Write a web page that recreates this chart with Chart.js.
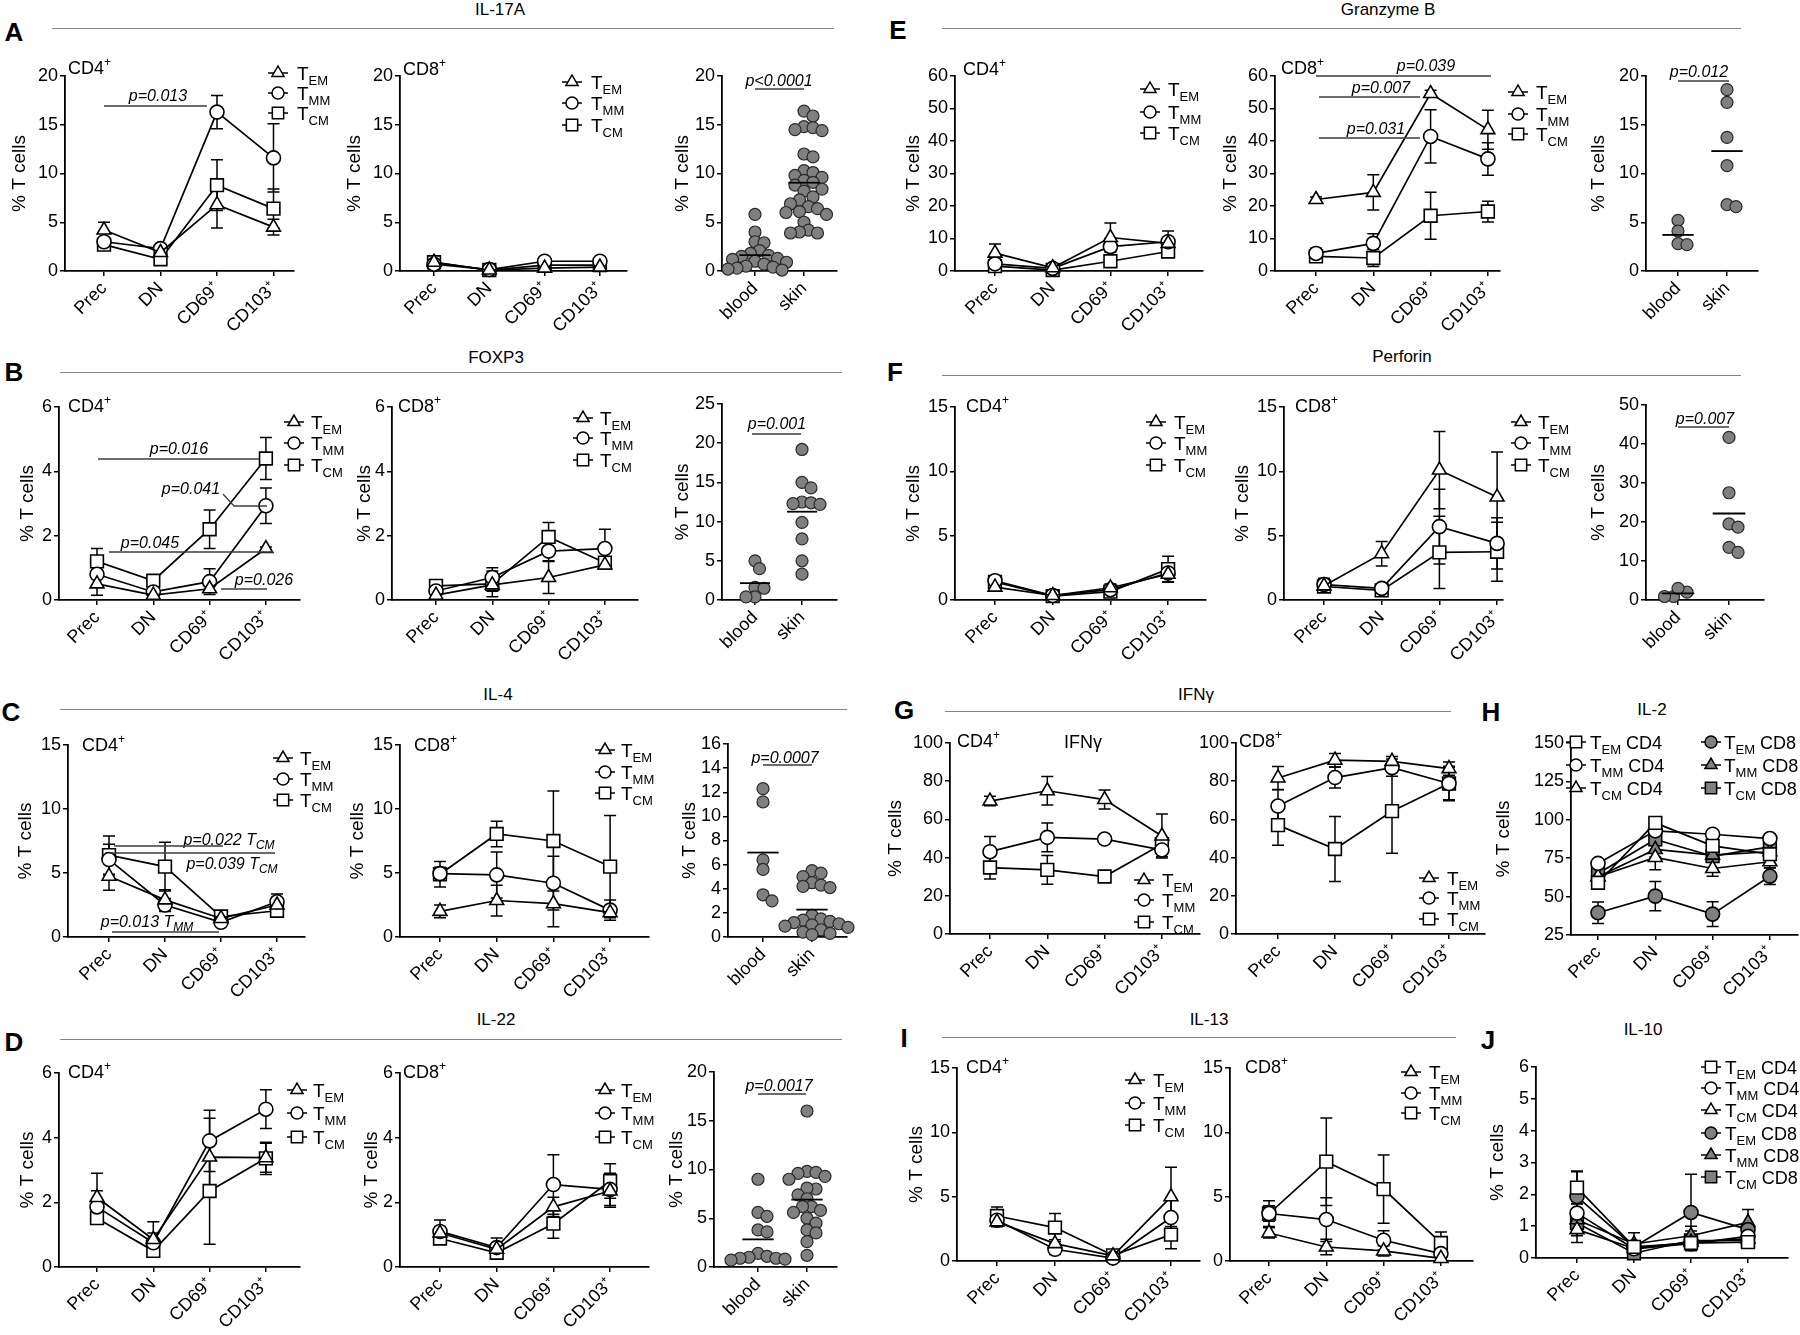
<!DOCTYPE html>
<html>
<head>
<meta charset="utf-8">
<script src="https://cdn.jsdelivr.net/npm/chart.js@4.4.0/dist/chart.umd.min.js"></script>
<style>
  body { margin: 0; width: 1800px; height: 1335px; position: relative; overflow: hidden; background: #fff;
         font-family: 'Liberation Sans', Arial, sans-serif; color: #000; }
  .letter { position: absolute; font-weight: bold; font-size: 26px; transform: translate(-50%, -50%); }
  .title { position: absolute; font-size: 17px; transform: translate(-50%, -50%); white-space: nowrap; }
  .rule { position: absolute; height: 0; border-top: 1.6px solid #858585; }
  canvas { position: absolute; }
</style>
</head>
<body>
<div class="letter" style="left:14px;top:32px">A</div>
<div class="letter" style="left:898px;top:30px">E</div>
<div class="letter" style="left:14px;top:372px">B</div>
<div class="letter" style="left:895px;top:372px">F</div>
<div class="letter" style="left:11px;top:712px">C</div>
<div class="letter" style="left:904px;top:710px">G</div>
<div class="letter" style="left:1491px;top:712px">H</div>
<div class="letter" style="left:14px;top:1042px">D</div>
<div class="letter" style="left:904px;top:1038px">I</div>
<div class="letter" style="left:1488px;top:1040px">J</div>

<div class="title" style="left:500px;top:10px">IL-17A</div>
<div class="title" style="left:1388px;top:10px">Granzyme B</div>
<div class="title" style="left:496px;top:358px">FOXP3</div>
<div class="title" style="left:1402px;top:357px">Perforin</div>
<div class="title" style="left:498px;top:695px">IL-4</div>
<div class="title" style="left:1196px;top:695px">IFNγ</div>
<div class="title" style="left:1652px;top:710px">IL-2</div>
<div class="title" style="left:496px;top:1020px">IL-22</div>
<div class="title" style="left:1209px;top:1020px">IL-13</div>
<div class="title" style="left:1643px;top:1030px">IL-10</div>

<div class="rule" style="left:52px;width:782px;top:28px"></div>
<div class="rule" style="left:942px;width:799px;top:28px"></div>
<div class="rule" style="left:60px;width:782px;top:372px"></div>
<div class="rule" style="left:942px;width:799px;top:375px"></div>
<div class="rule" style="left:60px;width:787px;top:709px"></div>
<div class="rule" style="left:945px;width:506px;top:711px"></div>
<div class="rule" style="left:60px;width:782px;top:1039px"></div>
<div class="rule" style="left:942px;width:514px;top:1037px"></div>

<script>
// categories
const stages = ['Prec', 'DN', 'CD69⁺', 'CD103⁺'];
const sites = ['blood', 'skin'];

// A - IL-17A (mean, SEM)
const il17_cd4_em = [4.2, 1.9, 6.8, 4.5],    il17_cd4_em_sem = [0.8, 0.3, 2.4, 0.8];
const il17_cd4_mm = [3.0, 2.3, 16.3, 11.6],  il17_cd4_mm_sem = [0.4, 0.4, 1.7, 3.5];
const il17_cd4_cm = [2.7, 1.2, 8.8, 6.4],    il17_cd4_cm_sem = [0.4, 0.3, 2.6, 2.0];
const il17_cd8_em = [0.9, 0.1, 0.3, 0.4],    il17_cd8_em_sem = [0.3, 0.1, 0.2, 0.2];
const il17_cd8_mm = [0.7, 0.15, 1.0, 1.0],   il17_cd8_mm_sem = [0.3, 0.1, 0.4, 0.2];
const il17_cd8_cm = [0.9, 0.1, 0.6, 0.6],    il17_cd8_cm_sem = [0.3, 0.1, 0.3, 0.2];
const il17_blood = [5.8, 4.0, 3.0, 2.9, 2.1, 1.8, 1.6, 1.5, 1.3, 1.2, 1.0, 0.9, 0.7, 0.5, 0.4, 0.3, 0.2, 0.1];
const il17_skin = [16.4, 15.9, 14.8, 14.7, 14.5, 14.4, 12.0, 11.7, 10.3, 10.1, 9.8, 9.6, 9.3, 9.1, 8.8,
                   8.4, 8.2, 7.6, 7.3, 6.9, 6.6, 6.4, 6.1, 6.0, 5.8, 5.0, 4.2, 4.0, 3.9, 3.9];

// E - Granzyme B
const gzb_cd4_em = [5.5, 1.0, 10.3, 8.5],    gzb_cd4_em_sem = [2.8, 0.5, 4.5, 1.5];
const gzb_cd4_mm = [2.2, 0.8, 7.5, 9.0],     gzb_cd4_mm_sem = [1.0, 0.5, 2.5, 3.3];
const gzb_cd4_cm = [1.5, 0.3, 3.0, 6.0],     gzb_cd4_cm_sem = [0.8, 0.3, 1.5, 1.0];
const gzb_cd8_em = [22.0, 24.2, 54.6, 43.5], gzb_cd8_em_sem = [0.8, 5.4, 1.0, 6.0];
const gzb_cd8_mm = [5.4, 8.5, 41.4, 34.5],   gzb_cd8_mm_sem = [1.6, 3.0, 8.2, 5.0];
const gzb_cd8_cm = [4.5, 4.0, 17.0, 18.3],   gzb_cd8_cm_sem = [1.5, 2.6, 7.2, 3.2];
const gzb_blood = [5.2, 4.1, 2.8, 2.7];
const gzb_skin = [18.6, 17.3, 13.7, 10.8, 6.8, 6.6];

// B - FOXP3
const foxp3_cd4_em = [0.5, 0.15, 0.35, 1.6],   foxp3_cd4_em_sem = [0.35, 0.1, 0.1, 0.05];
const foxp3_cd4_mm = [0.8, 0.25, 0.57, 2.93],  foxp3_cd4_mm_sem = [0.35, 0.1, 0.4, 0.55];
const foxp3_cd4_cm = [1.2, 0.6, 2.2, 4.4],     foxp3_cd4_cm_sem = [0.4, 0.1, 0.6, 0.65];
const foxp3_cd8_em = [0.15, 0.47, 0.7, 1.09],  foxp3_cd8_em_sem = [0.1, 0.2, 0.5, 0.1];
const foxp3_cd8_mm = [0.28, 0.7, 1.52, 1.6],   foxp3_cd8_mm_sem = [0.2, 0.3, 0.3, 0.6];
const foxp3_cd8_cm = [0.44, 0.5, 1.96, 1.16],  foxp3_cd8_cm_sem = [0.15, 0.4, 0.45, 0.15];
const foxp3_blood = [5.0, 4.0, 1.6, 1.5, 0.4, 0.4];
const foxp3_skin = [19.2, 15.0, 14.3, 12.5, 12.4, 12.3, 12.2, 9.9, 7.8, 5.0, 3.3];

// F - Perforin
const prf_cd4_em = [1.0, 0.35, 0.95, 2.0],   prf_cd4_em_sem = [0.3, 0.1, 0.3, 0.6];
const prf_cd4_mm = [1.5, 0.35, 0.8, 2.1],    prf_cd4_mm_sem = [0.3, 0.1, 0.2, 0.7];
const prf_cd4_cm = [1.4, 0.3, 0.65, 2.4],    prf_cd4_cm_sem = [0.3, 0.1, 0.2, 1.0];
const prf_cd8_em = [1.1, 3.6, 10.1, 8.0],    prf_cd8_em_sem = [0.5, 0.95, 3.0, 3.5];
const prf_cd8_mm = [1.2, 0.9, 5.7, 4.4],     prf_cd8_mm_sem = [0.5, 0.3, 2.9, 2.0];
const prf_cd8_cm = [1.05, 0.75, 3.7, 3.75],  prf_cd8_cm_sem = [0.4, 0.2, 2.8, 2.3];
const prf_blood = [0.9, 2.0, 3.0, 0.9];
const prf_skin = [41.7, 27.5, 19.5, 18.7, 13.5, 12.2];

// C - IL-4
const il4_cd4_em = [4.75, 2.9, 1.45, 2.5],   il4_cd4_em_sem = [1.1, 0.8, 0.3, 0.3];
const il4_cd4_mm = [6.05, 2.5, 1.15, 2.75],  il4_cd4_mm_sem = [1.2, 0.5, 0.3, 0.6];
const il4_cd4_cm = [6.4, 5.5, 1.6, 2.05],    il4_cd4_cm_sem = [1.5, 1.9, 0.3, 0.5];
const il4_cd8_em = [2.0, 2.85, 2.6, 1.9],    il4_cd8_em_sem = [0.5, 1.2, 1.8, 0.3];
const il4_cd8_mm = [4.95, 4.85, 4.2, 2.1],   il4_cd8_mm_sem = [0.5, 1.8, 2.1, 0.8];
const il4_cd8_cm = [4.9, 8.05, 7.5, 5.5],    il4_cd8_cm_sem = [1.0, 1.0, 3.9, 4.0];
const il4_blood = [12.3, 11.2, 6.4, 5.6, 3.5, 3.0];
const il4_skin = [5.5, 5.3, 5.0, 4.5, 4.3, 4.2, 4.1, 1.8, 1.5, 1.4, 1.3, 1.2, 1.1, 1.0, 0.9, 0.8, 0.6, 0.4, 0.3, 0.2];

// G - IFNγ
const ifng_cd4_em = [69.6, 75.0, 70.4, 51.3],  ifng_cd4_em_sem = [2.5, 7.5, 5.0, 11.5];
const ifng_cd4_mm = [43.1, 50.6, 49.7, 44.0],  ifng_cd4_mm_sem = [8.0, 7.5, 1.5, 3.5];
const ifng_cd4_cm = [34.8, 33.6, 30.1, 47.0],  ifng_cd4_cm_sem = [6.0, 7.5, 2.0, 3.0];
const ifng_cd8_em = [81.7, 91.0, 90.4, 86.6],  ifng_cd8_em_sem = [6.0, 3.5, 2.5, 3.5];
const ifng_cd8_mm = [67.0, 81.9, 87.1, 78.8],  ifng_cd8_mm_sem = [8.5, 5.5, 4.5, 8.5];
const ifng_cd8_cm = [57.0, 44.5, 64.3, 78.8],  ifng_cd8_cm_sem = [10.5, 17.0, 22.0, 9.0];

// H - IL-2
const il2_cd4_em = [59.0, 98.0, 83.0, 77.6],  il2_cd4_em_sem = [3, 4, 4, 4];
const il2_cd4_mm = [71.6, 92.8, 90.6, 87.8],  il2_cd4_mm_sem = [2, 3, 2, 3];
const il2_cd4_cm = [62.9, 75.5, 68.3, 72.7],  il2_cd4_cm_sem = [4, 8, 5, 4];
const il2_cd8_em = [39.5, 50.3, 38.6, 63.3],  il2_cd8_em_sem = [7, 9.5, 8, 5.5];
const il2_cd8_mm = [62.9, 80.7, 77.0, 79.2],  il2_cd8_mm_sem = [4, 5, 4, 4];
const il2_cd8_cm = [65.1, 87.2, 76.3, 82.4],  il2_cd8_cm_sem = [4, 4, 4, 4];

// D - IL-22
const il22_cd4_em = [2.15, 0.85, 3.4, 3.38],  il22_cd4_em_sem = [0.75, 0.55, 1.2, 0.45];
const il22_cd4_mm = [1.86, 0.75, 3.9, 4.88],  il22_cd4_mm_sem = [0.5, 0.3, 0.95, 0.6];
const il22_cd4_cm = [1.51, 0.5, 2.35, 3.36],  il22_cd4_cm_sem = [0.12, 0.1, 1.65, 0.5];
const il22_cd8_em = [1.05, 0.55, 1.86, 2.35], il22_cd8_em_sem = [0.2, 0.1, 0.3, 0.5];
const il22_cd8_mm = [1.1, 0.6, 2.55, 2.4],    il22_cd8_mm_sem = [0.35, 0.3, 0.92, 0.5];
const il22_cd8_cm = [0.88, 0.44, 1.34, 2.66], il22_cd8_cm_sem = [0.1, 0.15, 0.45, 0.53];
const il22_blood = [9.0, 5.6, 5.2, 3.8, 3.6, 1.4, 1.1, 1.0, 0.9, 0.9, 0.8, 0.7];
const il22_skin = [16.0, 9.8, 9.7, 9.6, 9.3, 9.0, 8.0, 8.1, 7.4, 7.0, 6.2, 5.8, 6.2, 5.6, 5.0, 4.5, 3.8, 3.5, 2.6, 1.2];

// I - IL-13
const il13_cd4_em = [3.04, 1.35, 0.4, 4.99],  il13_cd4_em_sem = [0.3, 0.3, 0.2, 2.3];
const il13_cd4_mm = [3.17, 0.91, 0.23, 3.38], il13_cd4_mm_sem = [0.5, 0.4, 0.1, 1.5];
const il13_cd4_cm = [3.5, 2.6, 0.44, 2.05],   il13_cd4_cm_sem = [0.7, 1.1, 0.2, 1.1];
const il13_cd8_em = [2.18, 1.09, 0.78, 0.2],  il13_cd8_em_sem = [0.4, 0.6, 0.4, 0.2];
const il13_cd8_mm = [3.69, 3.22, 1.61, 0.57], il13_cd8_mm_sem = [1.0, 1.7, 0.75, 0.5];
const il13_cd8_cm = [3.69, 7.72, 5.59, 1.4],  il13_cd8_cm_sem = [0.6, 3.4, 2.65, 0.85];

// J - IL-10
const il10_cd4_em = [2.21, 0.35, 0.47, 0.5],  il10_cd4_em_sem = [0.5, 0.1, 0.15, 0.1];
const il10_cd4_mm = [1.41, 0.29, 0.45, 0.68], il10_cd4_mm_sem = [0.4, 0.1, 0.2, 0.2];
const il10_cd4_cm = [0.89, 0.3, 0.5, 0.6],    il10_cd4_cm_sem = [0.4, 0.1, 0.2, 0.2];
const il10_cd8_em = [1.93, 0.35, 1.43, 0.89], il10_cd8_em_sem = [0.8, 0.1, 1.2, 0.2];
const il10_cd8_mm = [1.2, 0.44, 0.7, 1.12],   il10_cd8_mm_sem = [0.5, 0.35, 0.3, 0.4];
const il10_cd8_cm = [1.1, 0.15, 0.55, 0.55],  il10_cd8_cm_sem = [0.3, 0.1, 0.3, 0.2];

const FONT = "'Liberation Sans', Arial, sans-serif";
const WHITE = '#ffffff', GREY = '#808080';
const RAD = { triangle: 8, circle: 7, rect: 9 };
const LEG_RAD = { triangle: 7, circle: 6, rect: 8 };

function drawMarker(ctx, shape, x, y, r, fill) {
  ctx.beginPath();
  if (shape === 'circle') {
    ctx.arc(x, y, r, 0, Math.PI * 2);
  } else if (shape === 'rect') {
    const h = r * Math.SQRT1_2;
    ctx.rect(x - h, y - h, 2 * h, 2 * h);
  } else {
    ctx.moveTo(x, y - r);
    ctx.lineTo(x + r * 0.866, y + r * 0.5);
    ctx.lineTo(x - r * 0.866, y + r * 0.5);
    ctx.closePath();
  }
  ctx.fillStyle = fill;
  ctx.fill();
  ctx.stroke();
}

function fontOf(s) {
  return (s.italic ? 'italic ' : '') + s.size + 'px ' + FONT;
}

// draw a run of text pieces (for sub/superscripts), baseline at y
function richText(ctx, segs, x, y, align) {
  let w = 0;
  segs.forEach(s => { ctx.font = fontOf(s); w += ctx.measureText(s.t).width; });
  let cx = align === 'center' ? x - w / 2 : x;
  segs.forEach(s => {
    ctx.font = fontOf(s);
    ctx.fillText(s.t, cx, y + (s.dy || 0));
    cx += ctx.measureText(s.t).width;
  });
}

const decorPlugin = {
  id: 'decor',
  beforeDatasetsDraw(chart) {
    const ctx = chart.ctx, ys = chart.scales.y;
    chart.data.datasets.forEach((ds, di) => {
      if (!ds.sem) return;
      const meta = chart.getDatasetMeta(di);
      ctx.save();
      ctx.strokeStyle = '#000';
      ctx.lineWidth = 1.5;
      meta.data.forEach((pt, i) => {
        const v = ds.data[i].y, e = ds.sem[i];
        const hi = ys.getPixelForValue(v + e);
        const lo = ys.getPixelForValue(Math.max(ys.min, v - e));
        ctx.beginPath();
        ctx.moveTo(pt.x, hi); ctx.lineTo(pt.x, lo);
        ctx.moveTo(pt.x - 6, hi); ctx.lineTo(pt.x + 6, hi);
        ctx.moveTo(pt.x - 6, lo); ctx.lineTo(pt.x + 6, lo);
        ctx.stroke();
      });
      ctx.restore();
    });
  },
  afterDatasetsDraw(chart) {
    const d = chart.canvas._decor;
    if (!d) return;
    const ctx = chart.ctx, xs = chart.scales.x, ys = chart.scales.y;
    ctx.save();
    // group means
    chart.data.datasets.forEach(ds => {
      if (!ds.values) return;
      const mean = ds.values.reduce((a, b) => a + b, 0) / ds.values.length;
      const py = ys.getPixelForValue(mean);
      ctx.strokeStyle = '#000';
      ctx.lineWidth = 1.8;
      ctx.beginPath();
      ctx.moveTo(xs.getPixelForValue(ds.cat - 0.32), py);
      ctx.lineTo(xs.getPixelForValue(ds.cat + 0.32), py);
      ctx.stroke();
    });
    ctx.translate(-d.ox, -d.oy);
    ctx.fillStyle = '#000';
    ctx.textBaseline = 'alphabetic';
    if (d.corner) {
      richText(ctx, [{ t: d.corner.text, size: 18 }, { t: '+', size: 12, dy: -8 }], d.corner.x, d.corner.y + 6, 'left');
    }
    if (d.inner) {
      richText(ctx, [{ t: d.inner.text, size: 18 }], d.inner.x, d.inner.y + 6, 'center');
    }
    (d.legends || []).forEach(lg => {
      lg.items.forEach((it, i) => {
        const y = lg.rows[i];
        ctx.strokeStyle = '#000';
        ctx.lineWidth = 1.5;
        ctx.beginPath();
        ctx.moveTo(lg.mx - 10, y); ctx.lineTo(lg.mx + 10, y);
        ctx.stroke();
        drawMarker(ctx, it.shape, lg.mx, y, LEG_RAD[it.shape], it.fill);
        ctx.fillStyle = '#000';
        const segs = [{ t: 'T', size: 19 }, { t: it.sub, size: 13, dy: 5 }];
        if (it.suffix) segs.push({ t: ' ' + it.suffix, size: 18 });
        richText(ctx, segs, lg.tx, y + 7, 'left');
      });
    });
    (d.notes || []).forEach(n => {
      ctx.fillStyle = '#000';
      const segs = [{ t: n.text, size: 16, italic: true }];
      if (n.sub) segs.push({ t: ' T', size: 16, italic: true }, { t: n.sub, size: 12, italic: true, dy: 4 });
      richText(ctx, segs, n.x, n.y + 6, 'center');
      ctx.strokeStyle = '#3c3c3c';
      ctx.lineWidth = 1.3;
      ctx.beginPath();
      n.path.forEach((p, i) => (i ? ctx.lineTo(p[0], p[1]) : ctx.moveTo(p[0], p[1])));
      ctx.stroke();
    });
    ctx.restore();
  }
};
Chart.register(decorPlugin);

function series(values, sem, shape, fill) {
  return {
    data: values.map((v, i) => ({ x: i, y: v })),
    sem: sem,
    borderColor: '#000',
    borderWidth: 1.7,
    pointStyle: shape,
    pointRadius: RAD[shape],
    pointBackgroundColor: fill,
    pointBorderColor: '#000',
    pointBorderWidth: 1.6,
    fill: false,
    tension: 0,
    clip: false
  };
}

function trio(em, emSem, mm, mmSem, cm, cmSem) {
  return [series(em, emSem, 'triangle', WHITE), series(mm, mmSem, 'circle', WHITE), series(cm, cmSem, 'rect', WHITE)];
}

// beeswarm offsets (pixels); dots may overlap a little, as in the original
function swarm(values, pxPerUnit, diam) {
  const placed = [], offs = new Array(values.length);
  const order = values.map((v, i) => i).sort((a, b) => values[b] - values[a]);
  order.forEach(i => {
    const py = values[i] * pxPerUnit;
    let off = 0;
    for (let k = 0; k < 60; k++) {
      off = (k % 2 ? 1 : -1) * Math.ceil(k / 2) * diam * 0.5;
      if (placed.every(p => Math.hypot(p.x - off, p.y - py) >= diam)) break;
    }
    placed.push({ x: off, y: py });
    offs[i] = off;
  });
  return offs;
}

function dots(values, cat, spec) {
  const pxPerUnit = (spec.bot - spec.top) / (spec.yMax - (spec.yMin || 0));
  const offs = swarm(values, pxPerUnit, 9);
  return {
    type: 'scatter',
    data: values.map((v, i) => ({ x: cat + offs[i] / spec.s, y: v })),
    values: values,
    cat: cat,
    showLine: false,
    pointStyle: 'circle',
    pointRadius: 6,
    pointBackgroundColor: GREY,
    pointBorderColor: '#2a2a2a',
    pointBorderWidth: 1.2,
    clip: false
  };
}

const STD_ITEMS = [
  { shape: 'triangle', fill: WHITE, sub: 'EM' },
  { shape: 'circle', fill: WHITE, sub: 'MM' },
  { shape: 'rect', fill: WHITE, sub: 'CM' }
];

function build(spec, labels, datasets, decor) {
  const left = spec.titleX != null ? Math.round(spec.titleX - 11.4) : spec.x0 - 40;
  const top = spec.top - 48;
  const right = Math.min(1800, spec.x1 + (spec.padR != null ? spec.padR : 85));
  const bottom = spec.bot + 80;
  const w = right - left, h = bottom - top;
  const cv = document.createElement('canvas');
  cv.width = w;
  cv.height = h;
  cv.style.left = left + 'px';
  cv.style.top = top + 'px';
  cv.style.width = w + 'px';
  cv.style.height = h + 'px';
  document.body.appendChild(cv);
  cv._decor = Object.assign({ ox: left, oy: top }, decor);

  const n = labels.length, yMin = spec.yMin || 0;
  const axisLine = { display: true, color: '#000', width: 1.8 };
  const tickMarks = { drawOnChartArea: false, drawTicks: true, tickLength: 5, color: '#000', lineWidth: 1.5 };
  new Chart(cv, {
    type: spec.scatter ? 'scatter' : 'line',
    data: { datasets: datasets },
    options: {
      responsive: false,
      animation: false,
      devicePixelRatio: 1,
      events: [],
      layout: { autoPadding: false, padding: { top: spec.top - top, right: right - spec.x1, left: 0, bottom: 0 } },
      plugins: { legend: { display: false }, tooltip: { enabled: false } },
      scales: {
        x: {
          type: 'linear',
          min: (spec.x0 - spec.p0) / spec.s,
          max: (n - 1) + (spec.x1 - spec.p0 - (n - 1) * spec.s) / spec.s,
          afterBuildTicks: ax => { ax.ticks = labels.map((_, i) => ({ value: i })); },
          afterFit: ax => { ax.height = bottom - spec.bot; ax.paddingLeft = 0; ax.paddingRight = 0; },
          ticks: {
            autoSkip: false, minRotation: 45, maxRotation: 45, padding: 2, color: '#000',
            font: { family: FONT, size: 18 },
            callback: v => labels[v]
          },
          grid: tickMarks,
          border: axisLine
        },
        y: {
          min: yMin,
          max: spec.yMax,
          afterBuildTicks: ax => {
            const t = [];
            for (let v = yMin; v <= spec.yMax + 1e-9; v += spec.step) t.push({ value: v });
            ax.ticks = t;
          },
          afterFit: ax => { ax.width = spec.x0 - left; ax.paddingTop = 0; ax.paddingBottom = 0; },
          ticks: { autoSkip: false, padding: 2, color: '#000', font: { family: FONT, size: 18 } },
          grid: tickMarks,
          border: axisLine,
          title: { display: spec.titleX != null, text: '% T cells', color: '#000', font: { family: FONT, size: 19 }, padding: 0 }
        }
      }
    }
  });
}

function note(text, x, y, path, sub) {
  return { text: text, x: x, y: y, path: path, sub: sub };
}

// ---------- A: IL-17A ----------
const specA4 = { x0: 65, x1: 294, p0: 104, s: 56.5, top: 76, bot: 271, yMax: 20, step: 5, titleX: 19 };
build(specA4, stages,
  trio(il17_cd4_em, il17_cd4_em_sem, il17_cd4_mm, il17_cd4_mm_sem, il17_cd4_cm, il17_cd4_cm_sem),
  { corner: { text: 'CD4', x: 68, y: 68 },
    legends: [{ mx: 278, tx: 297, rows: [73, 93, 113], items: STD_ITEMS }],
    notes: [note('p=0.013', 158, 95, [[104, 106], [207, 106]])] });

const specA8 = { x0: 400, x1: 627, p0: 434, s: 55.3, top: 76, bot: 271, yMax: 20, step: 5, titleX: 354 };
build(specA8, stages,
  trio(il17_cd8_em, il17_cd8_em_sem, il17_cd8_mm, il17_cd8_mm_sem, il17_cd8_cm, il17_cd8_cm_sem),
  { corner: { text: 'CD8', x: 403, y: 69 },
    legends: [{ mx: 572, tx: 591, rows: [82, 103, 125], items: STD_ITEMS }] });

const specAs = { x0: 722, x1: 837, p0: 755, s: 49, top: 76, bot: 271, yMax: 20, step: 5, titleX: 682, scatter: true };
build(specAs, sites, [dots(il17_blood, 0, specAs), dots(il17_skin, 1, specAs)],
  { notes: [note('p<0.0001', 779, 80, [[755, 89], [804, 89]])] });

// ---------- E: Granzyme B ----------
const specE4 = { x0: 955, x1: 1203, p0: 995, s: 57.7, top: 76, bot: 271, yMax: 60, step: 10, titleX: 913 };
build(specE4, stages,
  trio(gzb_cd4_em, gzb_cd4_em_sem, gzb_cd4_mm, gzb_cd4_mm_sem, gzb_cd4_cm, gzb_cd4_cm_sem),
  { corner: { text: 'CD4', x: 963, y: 69 },
    legends: [{ mx: 1150, tx: 1168, rows: [89, 112, 133], items: STD_ITEMS }] });

const specE8 = { x0: 1275, x1: 1500, p0: 1316, s: 57.3, top: 76, bot: 271, yMax: 60, step: 10, titleX: 1230 };
build(specE8, stages,
  trio(gzb_cd8_em, gzb_cd8_em_sem, gzb_cd8_mm, gzb_cd8_mm_sem, gzb_cd8_cm, gzb_cd8_cm_sem),
  { corner: { text: 'CD8', x: 1281, y: 68 },
    legends: [{ mx: 1518, tx: 1536, rows: [92, 114, 134], items: STD_ITEMS }],
    notes: [note('p=0.039', 1426, 65, [[1316, 76], [1491, 76]]),
            note('p=0.007', 1381, 87, [[1319, 97], [1420, 97]]),
            note('p=0.031', 1376, 128, [[1319, 138], [1420, 138]])] });

const specEs = { x0: 1646, x1: 1758, p0: 1678, s: 49, top: 76, bot: 271, yMax: 20, step: 5, titleX: 1598, scatter: true, padR: 40 };
build(specEs, sites, [dots(gzb_blood, 0, specEs), dots(gzb_skin, 1, specEs)],
  { notes: [note('p=0.012', 1699, 71, [[1678, 81], [1729, 81]])] });

// ---------- B: FOXP3 ----------
const specB4 = { x0: 59, x1: 300, p0: 97, s: 56.3, top: 407, bot: 600, yMax: 6, step: 2, titleX: 27 };
build(specB4, stages,
  trio(foxp3_cd4_em, foxp3_cd4_em_sem, foxp3_cd4_mm, foxp3_cd4_mm_sem, foxp3_cd4_cm, foxp3_cd4_cm_sem),
  { corner: { text: 'CD4', x: 68, y: 406 },
    legends: [{ mx: 294, tx: 311, rows: [422, 443, 465], items: STD_ITEMS }],
    notes: [note('p=0.016', 179, 448, [[98, 459], [259, 459]]),
            note('p=0.041', 191, 488, [[223, 494], [234, 506], [267, 506]]),
            note('p=0.045', 150, 542, [[109, 552], [273, 552]]),
            note('p=0.026', 264, 579, [[221, 589], [267, 589]])] });

const specB8 = { x0: 392, x1: 638, p0: 436, s: 56.3, top: 407, bot: 600, yMax: 6, step: 2, titleX: 364 };
build(specB8, stages,
  trio(foxp3_cd8_em, foxp3_cd8_em_sem, foxp3_cd8_mm, foxp3_cd8_mm_sem, foxp3_cd8_cm, foxp3_cd8_cm_sem),
  { corner: { text: 'CD8', x: 398, y: 406 },
    legends: [{ mx: 583, tx: 600, rows: [418, 438, 460], items: STD_ITEMS }] });

const specBs = { x0: 722, x1: 837, p0: 755, s: 47, top: 404, bot: 600, yMax: 25, step: 5, titleX: 682, scatter: true };
build(specBs, sites, [dots(foxp3_blood, 0, specBs), dots(foxp3_skin, 1, specBs)],
  { notes: [note('p=0.001', 777, 423, [[752, 434], [801, 434]])] });

// ---------- F: Perforin ----------
const specF4 = { x0: 955, x1: 1206, p0: 995, s: 57.7, top: 407, bot: 600, yMax: 15, step: 5, titleX: 913 };
build(specF4, stages,
  trio(prf_cd4_em, prf_cd4_em_sem, prf_cd4_mm, prf_cd4_mm_sem, prf_cd4_cm, prf_cd4_cm_sem),
  { corner: { text: 'CD4', x: 966, y: 406 },
    legends: [{ mx: 1156, tx: 1174, rows: [422, 443, 465], items: STD_ITEMS }] });

const specF8 = { x0: 1284, x1: 1503, p0: 1324, s: 57.7, top: 407, bot: 600, yMax: 15, step: 5, titleX: 1242 };
build(specF8, stages,
  trio(prf_cd8_em, prf_cd8_em_sem, prf_cd8_mm, prf_cd8_mm_sem, prf_cd8_cm, prf_cd8_cm_sem),
  { corner: { text: 'CD8', x: 1295, y: 406 },
    legends: [{ mx: 1521, tx: 1538, rows: [422, 443, 465], items: STD_ITEMS }] });

const specFs = { x0: 1646, x1: 1764, p0: 1678, s: 51, top: 405, bot: 600, yMax: 50, step: 10, titleX: 1598, scatter: true, padR: 30 };
build(specFs, sites, [dots(prf_blood, 0, specFs), dots(prf_skin, 1, specFs)],
  { notes: [note('p=0.007', 1705, 418, [[1678, 427], [1729, 427]])] });

// ---------- C: IL-4 ----------
const specC4 = { x0: 68, x1: 305, p0: 109, s: 56, top: 745, bot: 937, yMax: 15, step: 5, titleX: 25 };
build(specC4, stages,
  trio(il4_cd4_em, il4_cd4_em_sem, il4_cd4_mm, il4_cd4_mm_sem, il4_cd4_cm, il4_cd4_cm_sem),
  { corner: { text: 'CD4', x: 82, y: 745 },
    legends: [{ mx: 283, tx: 300, rows: [758, 779, 800], items: STD_ITEMS }],
    notes: [note('p=0.022', 229, 839, [[114, 846], [223, 846]], 'CM'),
            note('p=0.039', 232, 863, [[109, 853], [275, 853]], 'CM'),
            note('p=0.013', 147, 921, [[112, 932], [219, 932]], 'MM')] });

const specC8 = { x0: 400, x1: 649, p0: 440, s: 56.7, top: 745, bot: 937, yMax: 15, step: 5, titleX: 357 };
build(specC8, stages,
  trio(il4_cd8_em, il4_cd8_em_sem, il4_cd8_mm, il4_cd8_mm_sem, il4_cd8_cm, il4_cd8_cm_sem),
  { corner: { text: 'CD8', x: 414, y: 745 },
    legends: [{ mx: 605, tx: 621, rows: [750, 772, 793], items: STD_ITEMS }] });

const specCs = { x0: 728, x1: 847, p0: 763, s: 49, top: 744, bot: 937, yMax: 16, step: 2, titleX: 689, scatter: true };
build(specCs, sites, [dots(il4_blood, 0, specCs), dots(il4_skin, 1, specCs)],
  { notes: [note('p=0.0007', 785, 757, [[763, 765], [812, 765]])] });

// ---------- G: IFNγ ----------
const specG4 = { x0: 950, x1: 1200, p0: 990, s: 57.3, top: 743, bot: 934, yMax: 100, step: 20, titleX: 895 };
build(specG4, stages,
  trio(ifng_cd4_em, ifng_cd4_em_sem, ifng_cd4_mm, ifng_cd4_mm_sem, ifng_cd4_cm, ifng_cd4_cm_sem),
  { corner: { text: 'CD4', x: 957, y: 741 },
    inner: { text: 'IFNγ', x: 1083, y: 742 },
    legends: [{ mx: 1144, tx: 1162, rows: [880, 900, 922], items: STD_ITEMS }] });

const specG8 = { x0: 1236, x1: 1485, p0: 1278, s: 57, top: 743, bot: 934, yMax: 100, step: 20, titleX: null };
build(specG8, stages,
  trio(ifng_cd8_em, ifng_cd8_em_sem, ifng_cd8_mm, ifng_cd8_mm_sem, ifng_cd8_cm, ifng_cd8_cm_sem),
  { corner: { text: 'CD8', x: 1239, y: 741 },
    legends: [{ mx: 1429, tx: 1447, rows: [878, 898, 919], items: STD_ITEMS }] });

// ---------- H: IL-2 ----------
const specH = { x0: 1571, x1: 1798, p0: 1598, s: 57.3, top: 743, bot: 935, yMin: 25, yMax: 150, step: 25, titleX: 1503, padR: 2 };
build(specH, stages, [
    series(il2_cd4_em, il2_cd4_em_sem, 'rect', WHITE),
    series(il2_cd4_mm, il2_cd4_mm_sem, 'circle', WHITE),
    series(il2_cd4_cm, il2_cd4_cm_sem, 'triangle', WHITE),
    series(il2_cd8_em, il2_cd8_em_sem, 'circle', GREY),
    series(il2_cd8_mm, il2_cd8_mm_sem, 'triangle', GREY),
    series(il2_cd8_cm, il2_cd8_cm_sem, 'rect', GREY)
  ],
  { legends: [
      { mx: 1576, tx: 1590, rows: [742, 765, 788], items: [
        { shape: 'rect', fill: WHITE, sub: 'EM', suffix: 'CD4' },
        { shape: 'circle', fill: WHITE, sub: 'MM', suffix: 'CD4' },
        { shape: 'triangle', fill: WHITE, sub: 'CM', suffix: 'CD4' }] },
      { mx: 1711, tx: 1724, rows: [742, 765, 788], items: [
        { shape: 'circle', fill: GREY, sub: 'EM', suffix: 'CD8' },
        { shape: 'triangle', fill: GREY, sub: 'MM', suffix: 'CD8' },
        { shape: 'rect', fill: GREY, sub: 'CM', suffix: 'CD8' }] }
    ] });

// ---------- D: IL-22 ----------
const specD4 = { x0: 59, x1: 300, p0: 97, s: 56.3, top: 1073, bot: 1267, yMax: 6, step: 2, titleX: 27 };
build(specD4, stages,
  trio(il22_cd4_em, il22_cd4_em_sem, il22_cd4_mm, il22_cd4_mm_sem, il22_cd4_cm, il22_cd4_cm_sem),
  { corner: { text: 'CD4', x: 68, y: 1072 },
    legends: [{ mx: 297, tx: 313, rows: [1090, 1113, 1137], items: STD_ITEMS }] });

const specD8 = { x0: 400, x1: 649, p0: 440, s: 56.7, top: 1073, bot: 1267, yMax: 6, step: 2, titleX: 371 };
build(specD8, stages,
  trio(il22_cd8_em, il22_cd8_em_sem, il22_cd8_mm, il22_cd8_mm_sem, il22_cd8_cm, il22_cd8_cm_sem),
  { corner: { text: 'CD8', x: 403, y: 1072 },
    legends: [{ mx: 605, tx: 621, rows: [1090, 1113, 1137], items: STD_ITEMS }] });

const specDs = { x0: 714, x1: 837, p0: 758, s: 49, top: 1072, bot: 1267, yMax: 20, step: 5, titleX: 676, scatter: true };
build(specDs, sites, [dots(il22_blood, 0, specDs), dots(il22_skin, 1, specDs)],
  { notes: [note('p=0.0017', 779, 1085, [[758, 1094], [806, 1094]])] });

// ---------- I: IL-13 ----------
const specI4 = { x0: 957, x1: 1200, p0: 997, s: 58, top: 1068, bot: 1261, yMax: 15, step: 5, titleX: 916 };
build(specI4, stages,
  trio(il13_cd4_em, il13_cd4_em_sem, il13_cd4_mm, il13_cd4_mm_sem, il13_cd4_cm, il13_cd4_cm_sem),
  { corner: { text: 'CD4', x: 966, y: 1067 },
    legends: [{ mx: 1135, tx: 1153, rows: [1080, 1103, 1125], items: STD_ITEMS }] });

const specI8 = { x0: 1230, x1: 1473, p0: 1269, s: 57.3, top: 1068, bot: 1261, yMax: 15, step: 5, titleX: null };
build(specI8, stages,
  trio(il13_cd8_em, il13_cd8_em_sem, il13_cd8_mm, il13_cd8_mm_sem, il13_cd8_cm, il13_cd8_cm_sem),
  { corner: { text: 'CD8', x: 1245, y: 1067 },
    legends: [{ mx: 1411, tx: 1429, rows: [1072, 1093, 1113], items: STD_ITEMS }] });

// ---------- J: IL-10 ----------
const specJ = { x0: 1536, x1: 1788, p0: 1577, s: 57, top: 1067, bot: 1258, yMax: 6, step: 1, titleX: 1497 };
build(specJ, stages, [
    series(il10_cd4_em, il10_cd4_em_sem, 'rect', WHITE),
    series(il10_cd4_mm, il10_cd4_mm_sem, 'circle', WHITE),
    series(il10_cd4_cm, il10_cd4_cm_sem, 'triangle', WHITE),
    series(il10_cd8_em, il10_cd8_em_sem, 'circle', GREY),
    series(il10_cd8_mm, il10_cd8_mm_sem, 'triangle', GREY),
    series(il10_cd8_cm, il10_cd8_cm_sem, 'rect', GREY)
  ],
  { legends: [{ mx: 1711, tx: 1725, rows: [1067, 1088, 1110, 1133, 1155, 1177], items: [
      { shape: 'rect', fill: WHITE, sub: 'EM', suffix: 'CD4' },
      { shape: 'circle', fill: WHITE, sub: 'MM', suffix: 'CD4' },
      { shape: 'triangle', fill: WHITE, sub: 'CM', suffix: 'CD4' },
      { shape: 'circle', fill: GREY, sub: 'EM', suffix: 'CD8' },
      { shape: 'triangle', fill: GREY, sub: 'MM', suffix: 'CD8' },
      { shape: 'rect', fill: GREY, sub: 'CM', suffix: 'CD8' }] }] });
</script>
</body>
</html>
